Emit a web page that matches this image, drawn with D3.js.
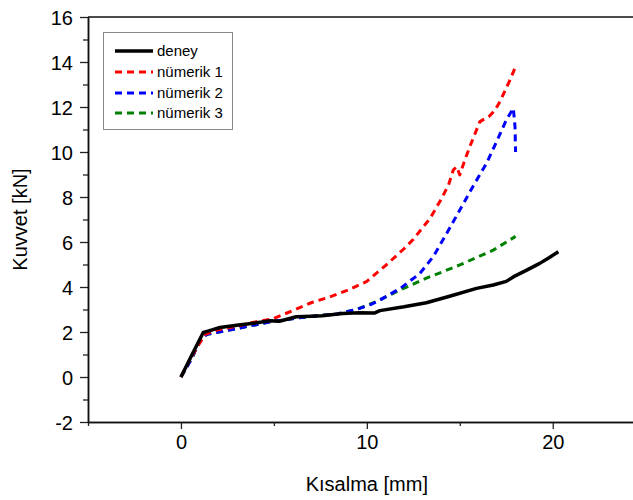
<!DOCTYPE html>
<html>
<head>
<meta charset="utf-8">
<script src="https://cdn.jsdelivr.net/npm/d3@7"></script>
<style>
  html, body { margin: 0; padding: 0; background: #fff; }
  svg { display: block; font-family: "Liberation Sans", Arial, sans-serif; }
</style>
</head>
<body>
<svg id="chart" width="633" height="500"></svg>
<script>
// Force–displacement curves: test and three numerical models
const deneyX = [0, 0.6, 1.2, 1.5, 2.1, 3, 4, 4.8, 5.3, 6.2, 7, 7.6, 8.7, 9.6, 10.4, 10.7, 12, 13.2, 14.5, 15.9, 16.8, 17.5, 17.9, 18.6, 19.3, 19.8, 20.3];
const deneyY = [0, 1.0, 1.98, 2.05, 2.2, 2.3, 2.4, 2.5, 2.48, 2.68, 2.7, 2.72, 2.82, 2.86, 2.84, 2.95, 3.12, 3.3, 3.6, 3.94, 4.09, 4.25, 4.46, 4.75, 5.05, 5.3, 5.57];

const numerik1X = [0, 0.6, 1.3, 2, 3, 4, 5, 6, 7, 8, 9, 10, 11, 12, 12.5, 13.4, 14, 14.4, 14.65, 14.83, 15.0, 15.27, 15.54, 16.08, 16.6, 16.9, 17.16, 17.7, 18.05];
const numerik1Y = [0, 0.95, 1.9, 2.1, 2.25, 2.45, 2.6, 2.95, 3.3, 3.56, 3.87, 4.25, 4.95, 5.7, 6.12, 7.05, 7.9, 8.55, 9.2, 9.35, 8.98, 9.64, 10.24, 11.35, 11.6, 11.87, 12.24, 13.2, 13.9];

const numerik2X = [0, 0.6, 1.0, 1.4, 3, 4.8, 6.6, 8.4, 9.5, 10.2, 10.7, 11.8, 12.85, 13.57, 14.3, 15.0, 15.7, 16.44, 17.0, 17.5, 17.88, 17.97, 18.0];
const numerik2Y = [0, 0.85, 1.6, 1.9, 2.15, 2.45, 2.66, 2.8, 3.02, 3.22, 3.42, 3.94, 4.6, 5.35, 6.39, 7.42, 8.46, 9.5, 10.5, 11.42, 11.94, 11.12, 10.0];

const numerik3X = [0, 0.6, 1.0, 1.4, 3, 4.8, 6.6, 8.4, 9.5, 10.5, 11.8, 13.2, 15, 16.8, 18];
const numerik3Y = [0, 0.85, 1.6, 1.9, 2.15, 2.45, 2.66, 2.8, 3.02, 3.35, 3.87, 4.39, 4.98, 5.64, 6.25];

const seriesNames = ["deney", "nümerik 1", "nümerik 2", "nümerik 3"];
const seriesColors = ["#000000", "#ff0000", "#0000ff", "#008000"];

const xMajorTicks = [0, 10, 20];
const xMinorTicks = [-5, 5, 15, 25];
const yMajorTicks = [-2, 0, 2, 4, 6, 8, 10, 12, 14, 16];
const yMinorTicks = [-1, 1, 3, 5, 7, 9, 11, 13, 15];

const series = [
  { name: seriesNames[0], color: seriesColors[0], xs: deneyX, ys: deneyY, dash: null, width: 3.5 },
  { name: seriesNames[1], color: seriesColors[1], xs: numerik1X, ys: numerik1Y, dash: "7,5", width: 3 },
  { name: seriesNames[2], color: seriesColors[2], xs: numerik2X, ys: numerik2Y, dash: "7,5", width: 3 },
  { name: seriesNames[3], color: seriesColors[3], xs: numerik3X, ys: numerik3Y, dash: "7,5", width: 3 }
];

const svg = d3.select("#chart");
const plotLeft = 88, plotTop = 17, plotBottom = 422, plotRight = 645.7;

const x = d3.scaleLinear().domain([-5, 25]).range([plotLeft, plotRight]);
const y = d3.scaleLinear().domain([-2, 16]).range([plotBottom, plotTop]);

// plain hyphen for negative tick labels
const fmt = d => String(d);

// Axes
const gx = svg.append("g").attr("transform", `translate(0,${plotBottom})`)
  .call(d3.axisBottom(x).tickValues(xMajorTicks).tickSize(7).tickSizeOuter(0).tickPadding(6).tickFormat(fmt));
const gxMinor = svg.append("g").attr("transform", `translate(0,${plotBottom})`)
  .call(d3.axisBottom(x).tickValues(xMinorTicks).tickSize(4).tickSizeOuter(0).tickFormat(""));
const gy = svg.append("g").attr("transform", `translate(${plotLeft},0)`)
  .call(d3.axisLeft(y).tickValues(yMajorTicks).tickSize(8).tickSizeOuter(0).tickPadding(7).tickFormat(fmt));
const gyMinor = svg.append("g").attr("transform", `translate(${plotLeft},0)`)
  .call(d3.axisLeft(y).tickValues(yMinorTicks).tickSize(5).tickSizeOuter(0).tickFormat(""));

[gx, gxMinor, gy, gyMinor].forEach(g => {
  g.select(".domain").attr("stroke", "#111").attr("stroke-width", 1.5);
  g.selectAll(".tick line").attr("stroke", "#222").attr("stroke-width", 1.3);
  g.selectAll(".tick text").attr("fill", "#000").style("font-size", "20px")
    .style("font-family", "'Liberation Sans', Arial, sans-serif");
});
gy.selectAll(".tick text").attr("dy", "0.35em");

// Top frame line
svg.append("line")
  .attr("x1", plotLeft).attr("x2", plotRight)
  .attr("y1", plotTop).attr("y2", plotTop)
  .attr("stroke", "#111").attr("stroke-width", 1.5);

// Axis titles
svg.append("text")
  .attr("x", (plotLeft + plotRight) / 2).attr("y", 491)
  .attr("text-anchor", "middle")
  .style("font-size", "20px")
  .text("Kısalma [mm]");

svg.append("text")
  .attr("transform", `translate(27,${(plotTop + plotBottom) / 2}) rotate(-90)`)
  .attr("text-anchor", "middle")
  .style("font-size", "20px")
  .text("Kuvvet [kN]");

// Curves
const line = d3.line().x(d => x(d[0])).y(d => y(d[1]));
// dashed models first, test curve on top
[series[3], series[2], series[1], series[0]].forEach(s => {
  const pts = s.xs.map((v, i) => [v, s.ys[i]]);
  svg.append("path")
    .datum(pts)
    .attr("d", line)
    .attr("fill", "none")
    .attr("stroke", s.color)
    .attr("stroke-width", s.width)
    .attr("stroke-linejoin", "round")
    .attr("stroke-dasharray", s.dash);
});

// Legend
const legend = svg.append("g");
legend.append("rect")
  .attr("x", 103.5).attr("y", 32.5)
  .attr("width", 129).attr("height", 97)
  .attr("fill", "#fff").attr("stroke", "#888").attr("stroke-width", 1);

const legendRows = [51, 72, 93, 113];
series.forEach((s, i) => {
  const ly = legendRows[i];
  legend.append("line")
    .attr("x1", 115).attr("x2", 153)
    .attr("y1", ly).attr("y2", ly)
    .attr("stroke", s.color)
    .attr("stroke-width", s.width)
    .attr("stroke-dasharray", s.dash);
  legend.append("text")
    .attr("x", 157).attr("y", ly)
    .attr("dy", "0.35em")
    .style("font-size", "15px")
    .text(s.name);
});
</script>
</body>
</html>
